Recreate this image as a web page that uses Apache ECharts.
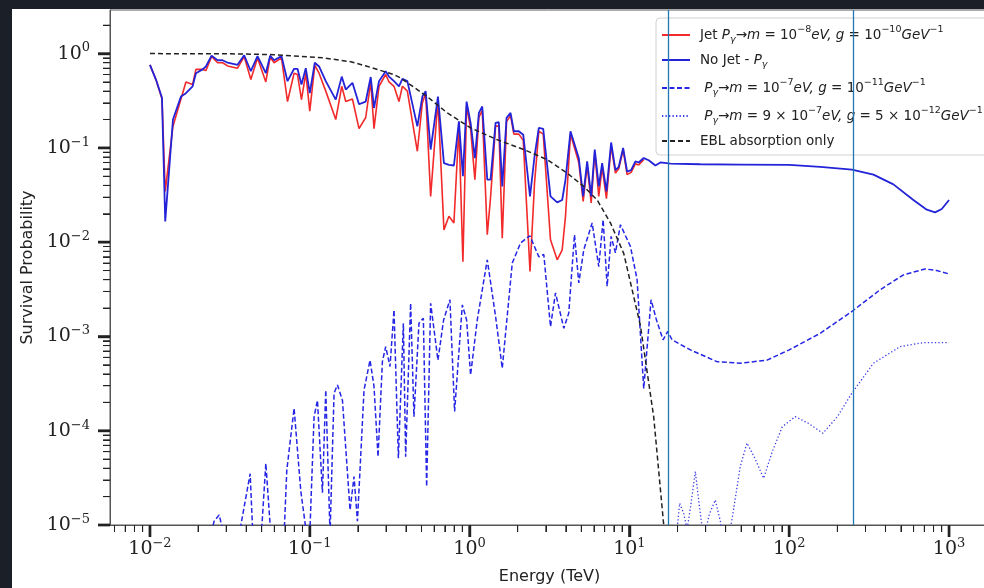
<!DOCTYPE html>
<html>
<head>
<meta charset="utf-8">
<script src="https://cdn.jsdelivr.net/npm/echarts@6/dist/echarts.min.js"></script>
<style>
  html, body { margin: 0; padding: 0; background: #1b1f27; overflow: hidden; }
  #chart { position: absolute; left: 12px; top: 9px; width: 972px; height: 579px; background: #fff; }
</style>
</head>
<body>
<div id="chart"></div>
<script>
// energy grid (TeV) shared by the jet / no-jet curves
const noJetE = [0.01, 0.0109, 0.01189, 0.01246, 0.01393, 0.01563, 0.01679, 0.01849, 0.01939, 0.02135,
  0.02239, 0.0243, 0.02649, 0.02847, 0.0306, 0.03533, 0.03886, 0.04277, 0.0471, 0.05309,
  0.05648, 0.05982, 0.06655, 0.07255, 0.07978, 0.08379, 0.08873, 0.09441, 0.1, 0.1075,
  0.1143, 0.1259, 0.1454, 0.1585, 0.1679, 0.1849, 0.2033, 0.2239, 0.2406, 0.2523,
  0.2711, 0.2985, 0.3131, 0.3365, 0.3615, 0.3797, 0.4079, 0.471, 0.5063, 0.5309,
  0.5705, 0.6337, 0.691, 0.7424, 0.7978, 0.8574, 0.9081, 0.9578, 1.0145, 1.079,
  1.143, 1.2, 1.29, 1.353, 1.454, 1.524, 1.601, 1.703, 1.804, 1.892,
  2.033, 2.166, 2.388, 2.548, 2.711, 2.888, 3.208, 3.533, 3.797, 3.981,
  4.278, 4.821, 5.136, 5.44, 5.764, 6.07, 6.429, 6.752, 7.18, 7.685,
  8.175, 8.574, 9.134, 9.674, 10.25, 10.9, 11.43, 12.29, 13.2, 14.54,
  15.63, 18.04, 27.79, 49.4, 100, 156.2, 246.6, 336.5, 448.6, 598.2,
  725.5, 817.5, 900.3, 1000];
const noJetP = [0.76, 0.53, 0.34, 0.0166, 0.2, 0.35, 0.38, 0.45, 0.62, 0.68,
  0.73, 0.95, 0.85, 0.85, 0.8, 0.76, 0.96, 0.65, 0.94, 0.62,
  0.95, 0.85, 0.94, 0.51, 0.69, 0.69, 0.47, 0.7, 0.38, 0.8,
  0.73, 0.51, 0.325, 0.57, 0.415, 0.49, 0.29, 0.31, 0.565, 0.265,
  0.51, 0.65, 0.57, 0.51, 0.45, 0.54, 0.51, 0.169, 0.35, 0.4,
  0.096, 0.35, 0.069, 0.066, 0.065, 0.191, 0.05, 0.31, 0.184, 0.078,
  0.235, 0.275, 0.046, 0.046, 0.184, 0.187, 0.039, 0.208, 0.235, 0.15,
  0.15, 0.138, 0.0306, 0.081, 0.163, 0.159, 0.0306, 0.0264, 0.028, 0.046,
  0.15, 0.078, 0.0306, 0.072, 0.0306, 0.096, 0.039, 0.069, 0.0345, 0.114,
  0.058, 0.063, 0.1, 0.056, 0.058, 0.072, 0.07, 0.078, 0.074, 0.065,
  0.07, 0.068, 0.067, 0.0665, 0.066, 0.063, 0.0587, 0.052, 0.041, 0.028,
  0.0221, 0.0207, 0.0225, 0.028];
// jet curve stops at ~12 TeV (same energies as noJetE)
const jetP = [0.76, 0.53, 0.33, 0.0345, 0.17, 0.33, 0.5, 0.47, 0.68, 0.68,
  0.66, 0.93, 0.8, 0.8, 0.74, 0.7, 0.93, 0.53, 0.9, 0.5,
  0.92, 0.8, 0.9, 0.31, 0.62, 0.6, 0.325, 0.62, 0.245, 0.75,
  0.62, 0.4, 0.2, 0.45, 0.31, 0.33, 0.16, 0.21, 0.5, 0.16,
  0.45, 0.6, 0.5, 0.45, 0.31, 0.45, 0.4, 0.092, 0.3, 0.38,
  0.0306, 0.32, 0.0135, 0.0188, 0.016, 0.17, 0.0062, 0.28, 0.16, 0.046,
  0.21, 0.25, 0.012, 0.03, 0.17, 0.17, 0.011, 0.19, 0.22, 0.14,
  0.14, 0.12, 0.0049, 0.042, 0.15, 0.14, 0.0106, 0.0065, 0.0083, 0.0188,
  0.14, 0.07, 0.027, 0.065, 0.026, 0.09, 0.0306, 0.062, 0.029, 0.105,
  0.054, 0.06, 0.095, 0.052, 0.055, 0.068, 0.066, 0.075];

// m = 1e-7 eV, g = 1e-11 GeV^-1
const m7E = [0.01, 0.02084, 0.02405, 0.02522, 0.02711, 0.02847, 0.03118, 0.035, 0.03706, 0.04236,
  0.044, 0.048, 0.05309, 0.05702, 0.0631, 0.0691, 0.0718, 0.07978, 0.08785, 0.099,
  0.1064, 0.1117, 0.12, 0.1259, 0.1339, 0.1419, 0.149, 0.1601, 0.1786, 0.1892,
  0.1987, 0.2185, 0.2382, 0.2523, 0.2673, 0.2847, 0.2985, 0.3177, 0.3365, 0.3584,
  0.3851, 0.3981, 0.4277, 0.4486, 0.4821, 0.5136, 0.5386, 0.5705, 0.6337, 0.6879,
  0.7533, 0.8058, 0.9004, 0.9578, 1.0145, 1.117, 1.29, 1.454, 1.601, 1.849,
  2.084, 2.382, 2.711, 2.913, 3.208, 3.447, 3.886, 4.174, 4.532, 4.821,
  5.181, 5.847, 6.429, 6.848, 7.255, 7.685, 8.175, 8.786, 10.15, 11.17,
  12.29, 13.66, 14.75, 16.24, 17.36, 18.49, 24.06, 35.33, 49.4, 72.55,
  100, 156.2, 246.6, 370.6, 518.1, 707.9, 837.7, 1000];
const m7P = [2e-6, 4e-6, 8e-6, 1.1e-5, 1.28e-5, 9e-6, 3e-6, 5e-6, 1.0e-5, 3.5e-5,
  8e-6, 3e-6, 4.5e-5, 8e-6, 3e-6, 8e-6, 3.8e-5, 1.73e-4, 2.3e-5, 5e-6,
  1.41e-4, 2.1e-4, 2.2e-5, 2.7e-4, 8e-6, 2.5e-4, 3.06e-4, 2.1e-4, 1.44e-5, 3.26e-5,
  1.1e-5, 2.7e-4, 5.6e-4, 2.95e-4, 5.3e-5, 5.4e-4, 7.8e-4, 4.8e-4, 1.91e-3, 5.1e-5,
  1.38e-3, 5.3e-5, 2.25e-3, 1.41e-4, 1.38e-3, 1.56e-3, 2.55e-5, 2.25e-3, 5.6e-4, 1.5e-3,
  2.45e-3, 1.6e-4, 2.16e-3, 1.5e-3, 3.9e-4, 1.5e-3, 6.5e-3, 1.63e-3, 4.6e-4, 6.0e-3,
  9.8e-3, 0.0117, 7.0e-3, 7.4e-3, 1.27e-3, 2.9e-3, 1.22e-3, 1.77e-3, 0.012, 3.7e-3,
  8.3e-3, 0.016, 5.5e-3, 0.0173, 3.4e-3, 0.0115, 7.7e-3, 0.0153, 9.0e-3, 4.0e-3,
  2.8e-4, 2.45e-3, 1.5e-3, 9.2e-4, 1.13e-3, 9.2e-4, 7.2e-4, 5.4e-4, 5.2e-4, 5.6e-4,
  7.2e-4, 1.08e-3, 1.84e-3, 3.13e-3, 4.5e-3, 5.2e-3, 5.0e-3, 4.6e-3];

// m = 9e-7 eV, g = 5e-12 GeV^-1 (below the axis floor under ~18 TeV)
const m9E = [11.72, 18.04, 19.87, 20.63, 21.85, 22.94, 24.06, 25.85, 27.38, 29.14,
  31.62, 34.47, 37.05, 39.81, 44.04, 49.4, 54.39, 61.32, 69.1, 78.3,
  90.4, 109, 131.5, 162.4, 199.5, 246.6, 336.5, 494, 691.1, 1000];
const m9P = [2e-6, 4e-6, 9e-6, 1.7e-5, 1.33e-5, 9e-6, 1.5e-5, 3.7e-5, 1.6e-5, 7e-6,
  1.3e-5, 1.84e-5, 1.1e-5, 5e-6, 1.2e-5, 4.2e-5, 7.4e-5, 5.0e-5, 3.13e-5, 6.0e-5,
  1.1e-4, 1.41e-4, 1.2e-4, 9.4e-5, 1.4e-4, 2.5e-4, 5.2e-4, 7.8e-4, 8.6e-4, 8.6e-4];

// EBL absorption only
const eblE = [0.01, 0.03206, 0.05957, 0.1223, 0.1804, 0.2304, 0.335, 0.3705, 0.5309, 0.7255,
  1.0145, 1.49, 2.185, 3.06, 4.079, 5.181, 6.283, 7.607, 9.213, 11.72,
  14.19, 16.39, 17.53];
const eblP = [1.0, 0.995, 0.975, 0.9, 0.82, 0.73, 0.6, 0.55, 0.36, 0.235,
  0.163, 0.122, 0.096, 0.075, 0.054, 0.039, 0.028, 0.016, 0.0076, 0.0013,
  1.4e-4, 1e-5, 1e-6];

// vertical marker lines (TeV)
const markerE = [17.5, 250];

const xMin = 0.005623, xMax = 1778;
const yMin = 1e-5, yMax = 2.9;

const names = [
  'Jet Pγ→m = 10⁻⁸eV, g = 10⁻¹⁰GeV⁻¹',
  'No Jet - Pγ',
  'Pγ→m = 10⁻⁷eV, g = 10⁻¹¹GeV⁻¹',
  'Pγ→m = 9 × 10⁻⁷eV, g = 5 × 10⁻¹²GeV⁻¹',
  'EBL absorption only'
];
const legendRich = {};
legendRich[names[0]] = '{g| }{n|Jet }{i|P}{sb|γ}{n|→}{i|m}{n| = 10}{sp|−8}{i|eV, g}{n| = 10}{sp|−10}{i|GeV}{sp|−1}';
legendRich[names[1]] = '{g| }{n|No Jet - }{i|P}{sb|γ}';
legendRich[names[2]] = '{g| }{n| }{i|P}{sb|γ}{n|→}{i|m}{n| = 10}{sp|−7}{i|eV, g}{n| = 10}{sp|−11}{i|GeV}{sp|−1}';
legendRich[names[3]] = '{g| }{n| }{i|P}{sb|γ}{n|→}{i|m}{n| = 9 × 10}{sp|−7}{i|eV, g}{n| = 5 × 10}{sp|−12}{i|GeV}{sp|−1}';
legendRich[names[4]] = '{g| }{n|EBL absorption only}';

function pairs(xs, ys) {
  return ys.map((y, i) => [xs[i], y]);
}

// matplotlib-like log tick values (majors at 10^n, minors at 2..9 x 10^n)
function logTicks(lo, hi) {
  const out = [];
  for (let d = Math.floor(Math.log10(lo)); d <= Math.ceil(Math.log10(hi)); d++) {
    for (let m = 1; m <= 9; m++) {
      const v = m * Math.pow(10, d);
      if (v >= lo && v <= hi) out.push({ v: v, major: m === 1 });
    }
  }
  return out;
}
const ticksX = logTicks(xMin, xMax);
const ticksY = logTicks(yMin, yMax);
const majorX = ticksX.filter(t => t.major).map(t => t.v);
const minorX = ticksX.filter(t => !t.major).map(t => t.v);
const majorY = ticksY.filter(t => t.major).map(t => t.v);
const minorY = ticksY.filter(t => !t.major).map(t => t.v);

function powerLabel(v) {
  const e = Math.log10(v);
  const r = Math.round(e);
  if (Math.abs(e - r) > 1e-6) return '';
  return '{b|10}{e|' + (r < 0 ? '−' : '') + Math.abs(r) + '}';
}

const labelRich = {
  b: { fontFamily: 'DejaVu Serif', fontSize: 19, lineHeight: 24, color: '#222' },
  e: { fontFamily: 'DejaVu Serif', fontSize: 13, lineHeight: 13, verticalAlign: 'top', color: '#222' }
};
const legendFont = 'DejaVu Sans';
const tickColor = '#222';

function minorAxis(extra) {
  return Object.assign({
    type: 'log', logBase: 10, gridIndex: 0,
    axisLine: { show: false },
    axisLabel: { show: false },
    splitLine: { show: false },
    minorTick: { show: false }
  }, extra);
}

const chart = echarts.init(document.getElementById('chart'));
chart.setOption({
  animation: false,
  grid: {
    left: 98, top: 1, width: 879, height: 515,
    show: true, borderColor: '#555', borderWidth: 1,
    outerBoundsMode: 'none'
  },
  legend: {
    orient: 'vertical',
    left: 644, top: 9,
    itemWidth: 28, itemHeight: 12, itemGap: 8,
    backgroundColor: 'rgba(255,255,255,0.8)',
    borderColor: '#d0d0d0', borderWidth: 1, borderRadius: 4,
    padding: [7, 8, 7, 5],
    itemStyle: { opacity: 0 },
    data: names,
    formatter: name => legendRich[name],
    textStyle: {
      rich: {
        g: { width: 5, fontSize: 12, lineHeight: 20 },
        n: { fontFamily: legendFont, fontSize: 13.5, lineHeight: 20, color: '#222' },
        i: { fontFamily: legendFont, fontSize: 13.5, lineHeight: 20, fontStyle: 'italic', color: '#222' },
        sp: { fontFamily: legendFont, fontSize: 9.5, lineHeight: 12, verticalAlign: 'top', color: '#222' },
        sb: { fontFamily: legendFont, fontSize: 9.5, lineHeight: 12, verticalAlign: 'bottom', fontStyle: 'italic', color: '#222' }
      }
    }
  },
  xAxis: [
    {
      type: 'log', logBase: 10, min: xMin, max: xMax, position: 'bottom',
      name: 'Energy (TeV)', nameLocation: 'middle', nameGap: 44,
      nameTextStyle: { fontFamily: 'DejaVu Sans', fontSize: 16, color: '#222' },
      axisLine: { lineStyle: { color: '#555', width: 1 } },
      axisTick: { show: true, customValues: majorX, length: 12, lineStyle: { color: tickColor, width: 2.4 } },
      minorTick: { show: false },
      splitLine: { show: false },
      axisLabel: { margin: 12, customValues: majorX, showMinLabel: true, showMaxLabel: true, formatter: powerLabel, rich: labelRich }
    },
    minorAxis({
      min: xMin, max: xMax, position: 'bottom',
      axisTick: { show: true, customValues: minorX, length: 7, lineStyle: { color: tickColor, width: 1 } }
    })
  ],
  yAxis: [
    {
      type: 'log', logBase: 10, min: yMin, max: yMax, position: 'left',
      name: 'Survival Probability', nameLocation: 'middle', nameGap: 61,
      nameTextStyle: { fontFamily: 'DejaVu Sans', fontSize: 16, color: '#222' },
      axisLine: { lineStyle: { color: '#555', width: 1 } },
      axisTick: { show: true, customValues: majorY, length: 12, lineStyle: { color: tickColor, width: 2.4 } },
      minorTick: { show: false },
      splitLine: { show: false },
      axisLabel: { margin: 20, customValues: majorY, showMinLabel: true, showMaxLabel: true, formatter: powerLabel, rich: labelRich }
    },
    minorAxis({
      min: yMin, max: yMax, position: 'left',
      axisTick: { show: true, customValues: minorY, length: 7, lineStyle: { color: tickColor, width: 1 } }
    })
  ],
  series: [
    {
      name: names[0], type: 'line', symbol: 'none', clip: true,
      data: pairs(noJetE, jetP),
      lineStyle: { color: '#f22a2a', width: 1.6 }, itemStyle: { color: '#f22a2a' }
    },
    {
      name: names[1], type: 'line', symbol: 'none', clip: true,
      data: pairs(noJetE, noJetP),
      lineStyle: { color: '#2323d8', width: 1.8 }, itemStyle: { color: '#2323d8' }
    },
    {
      name: names[2], type: 'line', symbol: 'none', clip: true,
      data: pairs(m7E, m7P),
      lineStyle: { color: '#2525e6', width: 1.5, type: [5, 2.5] }, itemStyle: { color: '#2525e6' }
    },
    {
      name: names[3], type: 'line', symbol: 'none', clip: true,
      data: pairs(m9E, m9P),
      lineStyle: { color: '#3b3be8', width: 1.3, type: [1.3, 2.2] }, itemStyle: { color: '#3b3be8' }
    },
    {
      name: names[4], type: 'line', symbol: 'none', clip: true,
      data: pairs(eblE, eblP),
      lineStyle: { color: '#222', width: 1.5, type: [5, 3] }, itemStyle: { color: '#222' },
      markLine: {
        silent: true, symbol: ['none', 'none'], label: { show: false },
        lineStyle: { color: '#1f77b4', width: 1.3, type: 'solid' },
        data: markerE.map(e => ({ xAxis: e }))
      }
    }
  ]
});

// same tick marks again through the axes' own scales (fallback if customValues is ignored)
const tickLines = [];
const axisX = chart.convertToPixel({ xAxisIndex: 0 }, xMin);
const axisY = chart.convertToPixel({ yAxisIndex: 0 }, yMin);
ticksX.forEach(t => {
  const px = chart.convertToPixel({ xAxisIndex: 0 }, t.v);
  const len = t.major ? 12 : 7;
  tickLines.push({ type: 'line', shape: { x1: px, y1: axisY, x2: px, y2: axisY + len },
    style: { stroke: tickColor, lineWidth: t.major ? 2.4 : 1 } });
});
ticksY.forEach(t => {
  const py = chart.convertToPixel({ yAxisIndex: 0 }, t.v);
  const len = t.major ? 12 : 7;
  tickLines.push({ type: 'line', shape: { x1: axisX - len, y1: py, x2: axisX, y2: py },
    style: { stroke: tickColor, lineWidth: t.major ? 2.4 : 1 } });
});
chart.setOption({ graphic: { elements: tickLines } });
</script>
</body>
</html>
